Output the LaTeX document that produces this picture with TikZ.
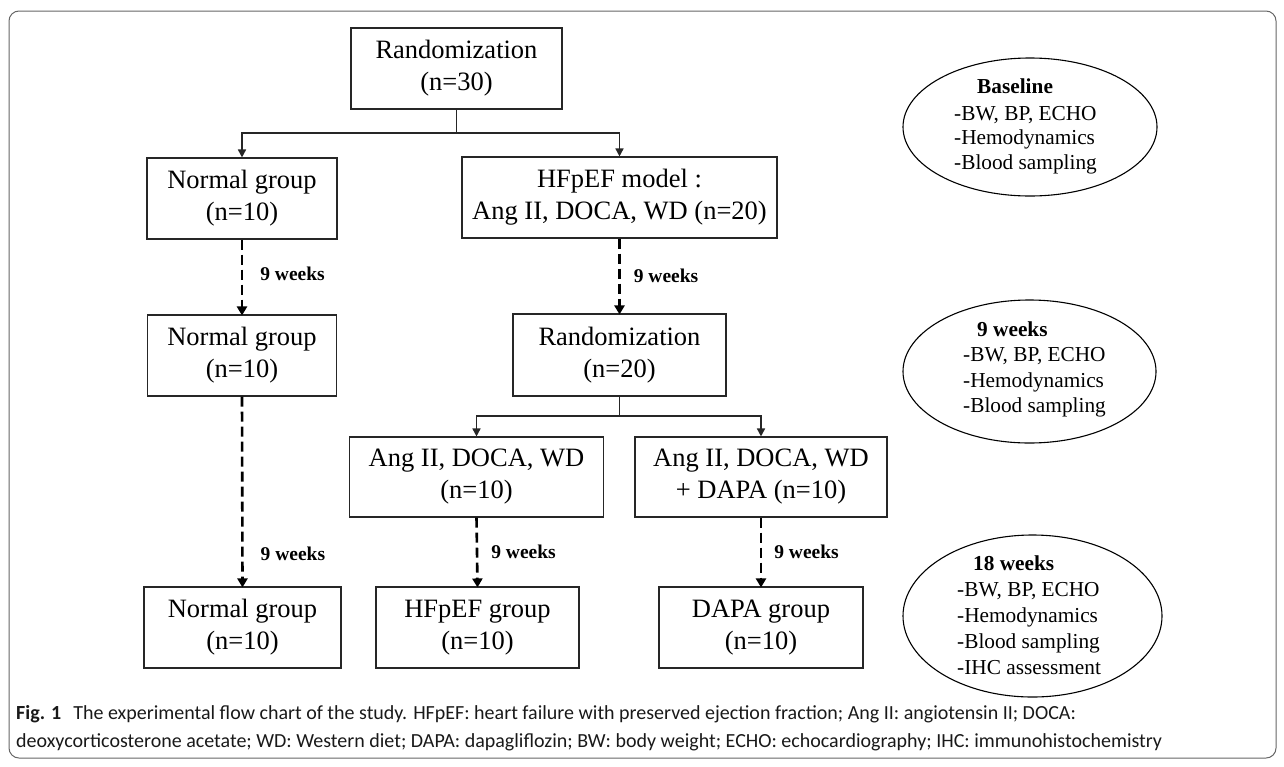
\documentclass[tikz,border=0pt]{standalone}
\usepackage{fontspec}
\setmainfont{Liberation Serif}[BoldFont={Liberation Serif Bold}, ItalicFont={Liberation Serif Italic}]
\newfontfamily\capfont{Carlito}
\usetikzlibrary{arrows.meta}
\tikzset{
  boxnode/.style={draw=black!85, line width=1.1pt, align=center, inner sep=0pt,
    font=\fontsize{26.5}{32}\selectfont},
  solidline/.style={draw=black!85, line width=1.6pt},
  arr/.style={solidline, -{Triangle[length=8pt,width=8pt]}},
  dsh/.style={draw=black, line width=2.6pt, dash pattern=on 10pt off 5pt,
    -{Triangle[length=9pt,width=10pt]}, shorten >=-1pt},
  wklbl/.style={font=\fontsize{19.5}{22}\selectfont\bfseries, anchor=west, inner sep=0pt},
  ell/.style={draw=black, line width=1.1pt},
  elltitle/.style={font=\fontsize{21.3}{25}\selectfont\bfseries, anchor=base west, inner sep=0pt},
  elltext/.style={font=\fontsize{21.3}{25}\selectfont, anchor=base west, inner sep=0pt},
  captext/.style={font=\capfont\fontsize{20}{24}\selectfont, anchor=base west, inner sep=0pt, text=black!90}
}
\begin{document}
\begin{tikzpicture}[x=1pt,y=-1pt]
\useasboundingbox (0,0) rectangle (1284,766);
\draw[black!60, line width=1pt, rounded corners=10pt] (9,11) rectangle (1276,758);

% boxes
\node[boxnode, minimum width=211pt, minimum height=81pt] (R30) at (456.5,68.5) {Randomization\\(n=30)};
\node[boxnode, minimum width=190pt, minimum height=81pt] (N1) at (242,198.5) {Normal group\\(n=10)};
\node[boxnode, minimum width=315pt, minimum height=81pt] (M) at (619.5,197.5) {HFpEF model :\\Ang II, DOCA, WD (n=20)};
\node[boxnode, minimum width=189pt, minimum height=81pt] (N2) at (242,355.5) {Normal group\\(n=10)};
\node[boxnode, minimum width=213pt, minimum height=82pt] (R20) at (619.5,355) {Randomization\\(n=20)};
\node[boxnode, minimum width=254pt, minimum height=80pt] (A1) at (476.5,477) {Ang II, DOCA, WD\\(n=10)};
\node[boxnode, minimum width=252pt, minimum height=80pt] (A2) at (761,477) {Ang II, DOCA, WD\\+ DAPA (n=10)};
\node[boxnode, minimum width=197pt, minimum height=81pt] (N3) at (242.5,627.5) {Normal group\\(n=10)};
\node[boxnode, minimum width=203pt, minimum height=81pt] (H) at (477.5,627.5) {HFpEF group\\(n=10)};
\node[boxnode, minimum width=204pt, minimum height=81pt] (D) at (761,627.5) {DAPA group\\(n=10)};

% solid branching connectors
\coordinate (j1) at (456.5,133);
\coordinate (j2) at (619.5,416);
\draw[solidline] (R30.south) -- (j1);
\draw[arr] (j1) -| (N1.north);
\draw[arr] (j1) -| (M.north);
\draw[solidline] (R20.south) -- (j2);
\draw[arr] (j2) -| (A1.north);
\draw[arr] (j2) -| (A2.north);

% dashed connectors
\draw[dsh] (N1.south) -- (N2.north) node[wklbl, pos=0.46, xshift=17pt] {9 weeks};
\draw[dsh] (M.south) -- (R20.north) node[wklbl, pos=0.5, xshift=13pt] {9 weeks};
\draw[dsh] (N2.south) -- (N3.north) node[wklbl, pos=0.83, xshift=17pt] {9 weeks};
\draw[dsh] (A1.south) -- (H.north) node[wklbl, pos=0.5, xshift=13pt] {9 weeks};
\draw[dsh] (A2.south) -- (D.north) node[wklbl, pos=0.5, xshift=12pt] {9 weeks};

% ellipses
\draw[ell] (1030,127) ellipse [x radius=127, y radius=69];
\node[elltitle] (e1t) at (977,93) {Baseline};
\node[elltext] (e1a) at (954,120) {-BW, BP, ECHO};
\node[elltext] (e1b) at (954,144.5) {-Hemodynamics};
\node[elltext] (e1c) at (954,169) {-Blood sampling};

\draw[ell] (1029.5,371.5) ellipse [x radius=126.5, y radius=71.5];
\node[elltitle] (e2t) at (977,336.7) {9 weeks};
\node[elltext] (e2a) at (963,361.7) {-BW, BP, ECHO};
\node[elltext] (e2b) at (963,387.2) {-Hemodynamics};
\node[elltext] (e2c) at (963,412) {-Blood sampling};

\draw[ell] (1032.5,616) ellipse [x radius=129.5, y radius=81];
\node[elltitle] (e3t) at (973,570) {18 weeks};
\node[elltext] (e3a) at (957,596.5) {-BW, BP, ECHO};
\node[elltext] (e3b) at (957,622.5) {-Hemodynamics};
\node[elltext] (e3c) at (957,648) {-Blood sampling};
\node[elltext] (e3d) at (957,674) {-IHC assessment};

% caption
\node[captext] (cap1) at (16,719) {\textbf{Fig. 1}\hspace{0.6em}The experimental flow chart of the study. HFpEF: heart failure with preserved ejection fraction; Ang II: angiotensin II; DOCA:};
\node[captext] (cap2) at (16,747) {deoxycorticosterone acetate; WD: Western diet; DAPA: dapagliflozin; BW: body weight; ECHO: echocardiography; IHC: immunohistochemistry};
\end{tikzpicture}
\end{document}
